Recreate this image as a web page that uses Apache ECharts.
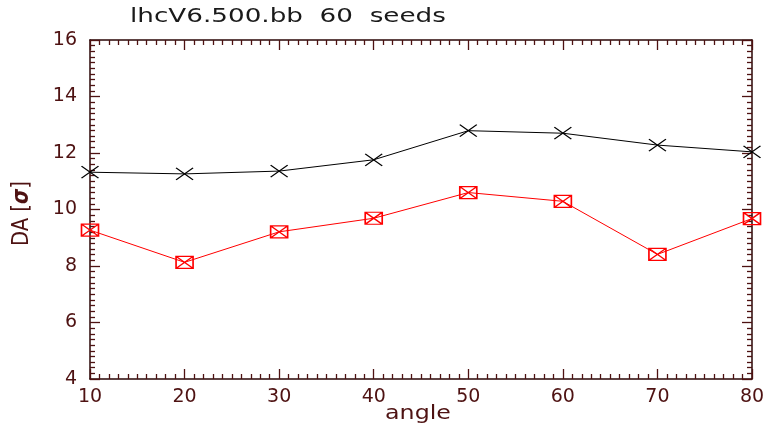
<!DOCTYPE html>
<html>
<head>
<meta charset="utf-8">
<script src="https://cdn.jsdelivr.net/npm/echarts@6/dist/echarts.min.js"></script>
<style>
  html, body { margin: 0; padding: 0; background: #fff; }
  #chart { width: 767px; height: 424px; }
</style>
</head>
<body>
<div id="chart"></div>
<script>
// Dynamic aperture vs. angle, lhcV6.500.bb, 60 seeds
const angles = [10, 20, 30, 40, 50, 60, 70, 80];
const daAverage = [11.32, 11.26, 11.36, 11.76, 12.79, 12.70, 12.28, 12.04];
const daMinimum = [9.27, 8.13, 9.21, 9.69, 10.60, 10.29, 8.41, 9.68];

const titleText = 'lhcV6.500.bb  60  seeds';
const xName = 'angle';

const axisCol = '#2a0606';
const labelCol = '#4e1212';
const font = 'DejaVu Sans';

const crossPath = 'path://M0,0 L17,12 M17,0 L0,12';
const boxCrossPath = 'path://M0,0 L17,0 L17,12 L0,12 Z M0,0 L17,12 M17,0 L0,12';

function pairs(ys) { return angles.map((a, i) => [a, ys[i]]); }

function frameAxis(extra) {
  return Object.assign({
    type: 'value',
    axisLine: { show: true, onZero: false, lineStyle: { color: axisCol, width: 1.5 } },
    axisTick: { show: true, inside: true, length: 10, lineStyle: { color: labelCol, width: 1.3 } },
    minorTick: { show: true, splitNumber: 10, length: 5, lineStyle: { color: labelCol, width: 1.3 } },
    splitLine: { show: false },
    minorSplitLine: { show: false }
  }, extra);
}

const chart = echarts.init(document.getElementById('chart'), null, { renderer: 'canvas' });
chart.setOption({
  animation: false,
  backgroundColor: '#ffffff',
  grid: { left: 90, right: 15, top: 40, bottom: 45, outerBoundsMode: 'none', containLabel: false },
  xAxis: [
    frameAxis({
      position: 'bottom', min: 10, max: 80, interval: 10,
      axisLabel: { margin: 9, fontFamily: font, fontSize: 19, color: labelCol }
    }),
    frameAxis({
      position: 'top', min: 10, max: 80, interval: 10,
      axisLabel: { show: false }
    })
  ],
  yAxis: [
    frameAxis({
      position: 'left', min: 4, max: 16, interval: 2,
      axisLabel: { margin: 13, fontFamily: font, fontSize: 19, color: labelCol }
    }),
    frameAxis({
      position: 'right', min: 4, max: 16, interval: 2,
      axisLabel: { show: false }
    })
  ],
  graphic: [
    {
      type: 'text',
      x: 130, y: 8,
      scaleX: 1.38,
      style: { text: titleText, font: '19px "DejaVu Sans"', fill: '#1a1a1a' }
    },
    {
      type: 'text',
      x: 418, y: 405,
      scaleX: 1.25,
      style: { text: xName, font: '19px "DejaVu Sans"', fill: labelCol, align: 'center' }
    },
    {
      type: 'text',
      x: 11, y: 246,
      rotation: Math.PI / 2,
      scaleX: 0.85,
      style: {
        text: 'DA [{s|σ}]',
        rich: { s: { fontFamily: font, fontSize: 23, fontStyle: 'italic', fontWeight: 'bold', fill: labelCol } },
        font: '23px "DejaVu Sans"',
        fill: labelCol
      }
    }
  ],
  series: [
    {
      type: 'line',
      data: pairs(daAverage),
      symbol: crossPath, symbolSize: [17, 12],
      lineStyle: { color: '#000000', width: 1 },
      itemStyle: { color: 'none', borderColor: '#000000', borderWidth: 1.2 }
    },
    {
      type: 'line',
      data: pairs(daMinimum),
      symbol: boxCrossPath, symbolSize: [17, 12],
      lineStyle: { color: '#ff0000', width: 1 },
      itemStyle: { color: 'none', borderColor: '#ff0000', borderWidth: 1.4 }
    }
  ]
});
</script>
</body>
</html>
